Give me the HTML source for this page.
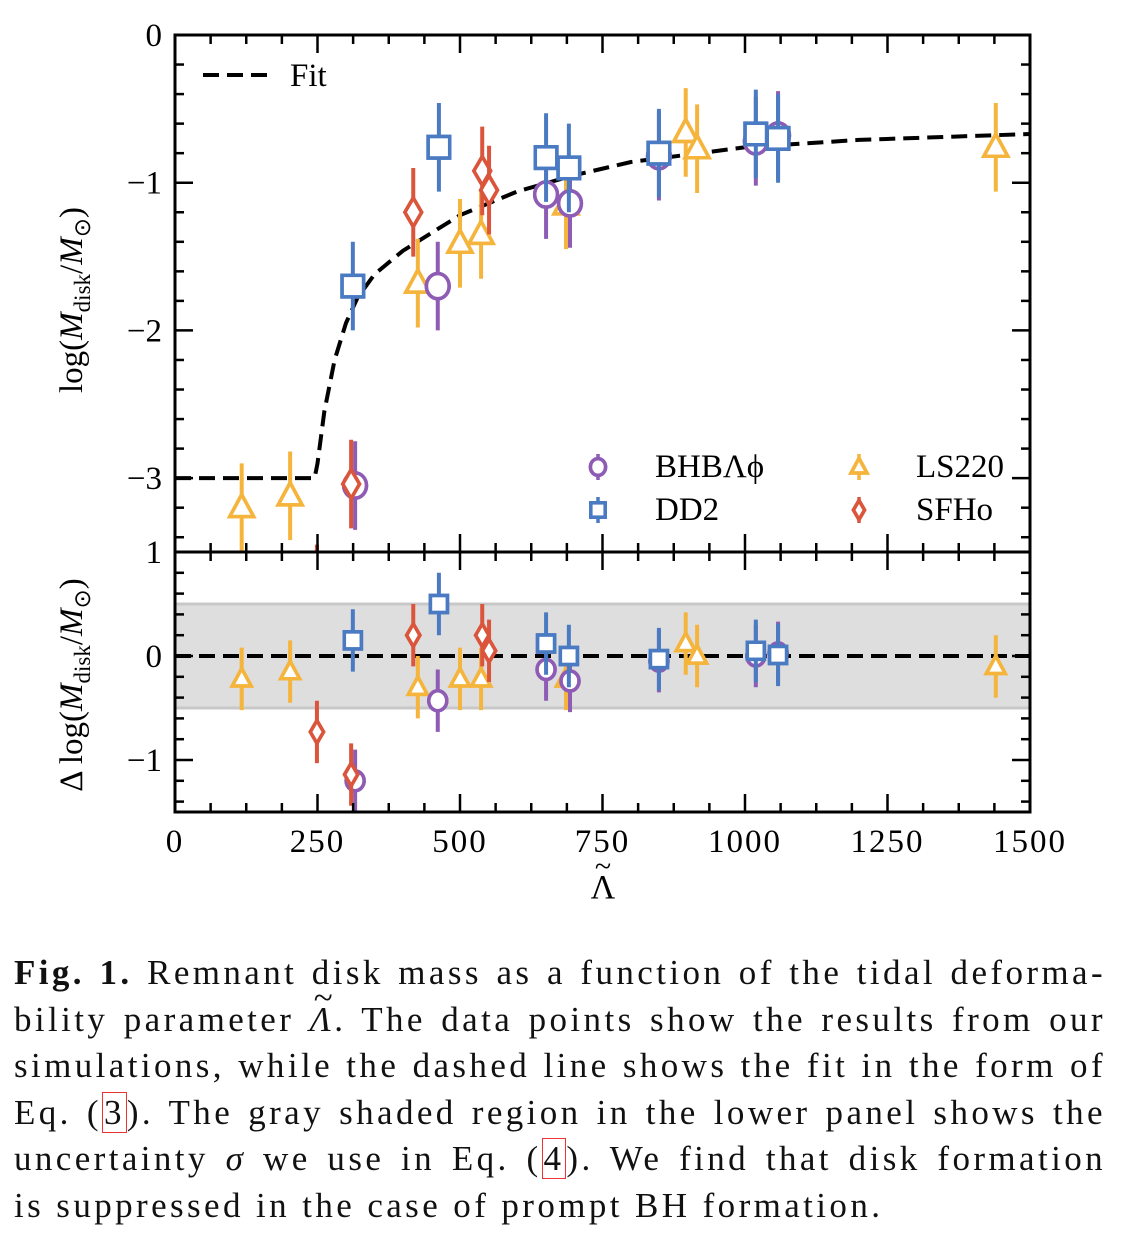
<!DOCTYPE html>
<html><head><meta charset="utf-8">
<style>
html,body{margin:0;padding:0;background:#fff;}
body{width:1142px;height:1256px;position:relative;overflow:hidden;font-family:"Liberation Serif",serif;}
#cap{position:absolute;left:14px;top:950px;width:1092px;font-size:35px;letter-spacing:3.4px;line-height:46.6px;color:#111;}
#cap div{text-align:justify;text-align-last:justify;white-space:nowrap;height:46.6px;}
#cap div.last{text-align-last:left;}
.ref{border:1px solid #e33;padding:0 1px;}
.tl{position:relative;display:inline-block;}
.tl::after{content:"~";position:absolute;left:4px;top:-22px;font-style:normal;}
</style></head>
<body>
<svg id="chart" width="1142" height="940" style="position:absolute;left:0;top:0" xmlns="http://www.w3.org/2000/svg" font-family="Liberation Serif, serif"></svg>
<div id="cap">
<div><b>Fig. 1.</b> Remnant disk mass as a function of the tidal deforma-</div>
<div>bility parameter <i class="tl">Λ</i>. The data points show the results from our</div>
<div>simulations, while the dashed line shows the fit in the form of</div>
<div>Eq. (<span class="ref">3</span>). The gray shaded region in the lower panel shows the</div>
<div>uncertainty <i>σ</i> we use in Eq. (<span class="ref">4</span>). We find that disk formation</div>
<div class="last">is suppressed in the case of prompt BH formation.</div>
</div>
<script>
const lsLambda=[117,202,426,500,537,686,896,916,1440];
const lsLog=[-3.2,-3.12,-1.68,-1.41,-1.35,-1.15,-0.66,-0.77,-0.76];
const lsRes=[-0.22,-0.15,-0.3,-0.22,-0.22,-0.22,0.12,0.0,-0.1];
const bhLambda=[316,461,651,693,849,1019,1058];
const bhLog=[-3.05,-1.7,-1.08,-1.14,-0.82,-0.72,-0.68];
const bhRes=[-1.2,-0.43,-0.13,-0.24,-0.05,0.0,0.03];
const ddLambda=[312,463,651,691,849,1019,1058];
const ddLog=[-1.7,-0.76,-0.83,-0.9,-0.8,-0.67,-0.7];
const ddRes=[0.15,0.5,0.12,0.0,-0.03,0.05,0.01];
const sfLambda=[249,309,418,539,551];
const sfLog=[-3.75,-3.04,-1.2,-0.92,-1.05];
const sfRes=[-0.73,-1.14,0.2,0.2,0.05];
const errTop=0.3, errBot=0.3;
const fitLambda=[0,245,250,262,280,300,320,350,400,450,500,600,700,800,1000,1200,1500];
const fitLog=[-3,-3,-2.9,-2.55,-2.2,-1.95,-1.78,-1.62,-1.46,-1.34,-1.22,-1.06,-0.95,-0.86,-0.76,-0.71,-0.67];
const xTicks=[0,250,500,750,1000,1250,1500];
const yTopTicks=[0,-1,-2,-3];
const yBotTicks=[1,0,-1];

const NS='http://www.w3.org/2000/svg';
const svg=document.getElementById('chart');
const L=175,R=1030,T1=35,B1=552,T2=552,B2=812;
const X=v=>L+v/1500*(R-L);
const Y1=v=>T1+(-v)/3.5*(B1-T1);
const Y2=v=>T2+(1-v)/2.5*(B2-T2);
function mk(tag,attrs,parent){const e=document.createElementNS(NS,tag);for(const k in attrs)e.setAttribute(k,attrs[k]);(parent||svg).appendChild(e);return e;}
const defs=mk('defs',{});
const c1=mk('clipPath',{id:'c1'},defs);mk('rect',{x:L,y:T1,width:R-L,height:B1-T1},c1);
const c2=mk('clipPath',{id:'c2'},defs);mk('rect',{x:L,y:T2,width:R-L,height:B2-T2},c2);
const g1=mk('g',{'clip-path':'url(#c1)'});


const g2=mk('g',{'clip-path':'url(#c2)'});



const band=mk('rect',{x:L,y:Y2(0.5),width:R-L,height:Y2(-0.5)-Y2(0.5),fill:'#dedede',stroke:'#c8c8c8','stroke-width':3},g2);



let d='';fitLambda.forEach((l,i)=>{d+=(i?'L':'M')+X(l).toFixed(1)+','+Y1(fitLog[i]).toFixed(1);});
const fit=mk('path',{d:d,fill:'none',stroke:'#000','stroke-width':4,'stroke-dasharray':'16,8'},g1);


const zl=mk('line',{x1:L,x2:R,y1:Y2(0),y2:Y2(0),stroke:'#000','stroke-width':4,'stroke-dasharray':'16,8'},g2);



function marker(type,cx,cy,color,s,parent){
  const a={fill:'none',stroke:color,'stroke-width':3.5};let e;
  if(type==='o'){e=mk('ellipse',Object.assign({cx:cx,cy:cy,rx:s*0.95,ry:s*1.05},a),parent);}
  else if(type==='s'){e=mk('rect',Object.assign({x:cx-s*0.9,y:cy-s*0.9,width:s*1.8,height:s*1.8},a),parent);}
  else if(type==='^'){e=mk('polygon',Object.assign({points:`${cx},${cy-s*1.1} ${cx+s},${cy+s*0.75} ${cx-s},${cy+s*0.75}`},a),parent);}
  else {e=mk('polygon',Object.assign({points:`${cx},${cy-s*1.2} ${cx+s*0.7},${cy} ${cx},${cy+s*1.2} ${cx-s*0.7},${cy}`},a),parent);}
  return e;
}
function series(name,type,color,lam,logv,res){
  [[g1,Y1,logv,errTop,'top'],[g2,Y2,res,errBot,'bottom']].forEach(([g,Yf,vals,err,pn])=>{
    lam.forEach((l,i)=>{
      const cx=X(l),cy=Yf(vals[i]);
      const grp=mk('g',{},g);
      
      
      const sz=pn==='top'?12:9.5;
      mk('line',{x1:cx,x2:cx,y1:Yf(vals[i]+err),y2:Yf(vals[i]-err),stroke:color,'stroke-width':4},grp);
      const m=marker(type,cx,cy,color,sz,grp);m.setAttribute('fill','#fff');
      marker(type,cx,cy,color,sz,grp);
    });
  });
}
const C={ls:'#f5b43c',bh:'#8e5cb5',dd:'#4a7bc2',sf:'#da553c'};
series('ls220','^',C.ls,lsLambda,lsLog,lsRes);
series('bhblphi','o',C.bh,bhLambda,bhLog,bhRes);
series('dd2','s',C.dd,ddLambda,ddLog,ddRes);
series('sfho','d',C.sf,sfLambda,sfLog,sfRes);

function frame(top,bot,name){const r=mk('rect',{x:L,y:top,width:R-L,height:bot-top,fill:'none',stroke:'#000','stroke-width':3});}
frame(T1,B1,'top-panel-frame');frame(T2,B2,'bottom-panel-frame');
function tk(x1,y1,x2,y2){mk('line',{x1,y1,x2,y2,stroke:'#000','stroke-width':2.5});}
for(let v=0;v<=1500;v+=62.5){const x=X(v),maj=v%250===0,len=maj?18:9;
  [[T1,1],[B1,-1],[T2,1],[B2,-1]].forEach(([y,s])=>tk(x,y,x,y+s*len));}
for(let k=0;k<=17;k++){const v=-k*0.2,y=Y1(v),maj=Math.abs(v-Math.round(v))<1e-6,len=maj?18:9;tk(L,y,L+len,y);tk(R,y,R-len,y);}
for(let k=0;k<=12;k++){const v=1-k*0.2,y=Y2(v),maj=Math.abs(v-Math.round(v))<1e-6,len=maj?18:9;if(y<=T2+1||y>=B2-1)continue;tk(L,y,L+len,y);tk(R,y,R-len,y);}
function txt(s,x,y,attrs,name){const t=mk('text',Object.assign({x,y,'font-size':33,fill:'#000'},attrs||{}));t.textContent=s;return t;}
xTicks.forEach(v=>txt(String(v),X(v),852,{'text-anchor':'middle','letter-spacing':2},'x-tick-label'));
yTopTicks.forEach(v=>txt(v<0?'−'+(-v):String(v),162,Y1(v)+11,{'text-anchor':'end'},'y-top-tick-label'));
yBotTicks.forEach(v=>txt(v<0?'−'+(-v):String(v),162,Y2(v)+11,{'text-anchor':'end'},'y-bottom-tick-label'));
const yt=txt('',82,300,{'text-anchor':'middle',transform:'rotate(-90 82 300)'},'y-axis-title-top');
yt.innerHTML='log(<tspan font-style="italic">M</tspan><tspan font-size="23" dy="8">disk</tspan><tspan dy="-8">/</tspan><tspan font-style="italic">M</tspan><tspan font-size="23" dy="8">⊙</tspan><tspan dy="-8">)</tspan>';
const yb=txt('',82,685,{'text-anchor':'middle',transform:'rotate(-90 82 685)'},'y-axis-title-bottom');
yb.innerHTML='Δ log(<tspan font-style="italic">M</tspan><tspan font-size="23" dy="8">disk</tspan><tspan dy="-8">/</tspan><tspan font-style="italic">M</tspan><tspan font-size="23" dy="8">⊙</tspan><tspan dy="-8">)</tspan>';
txt('Λ',603,898,{'text-anchor':'middle','font-size':34},'x-axis-title');
txt('~',603,876,{'text-anchor':'middle','font-size':30},'x-axis-title-tilde');
const fl=mk('line',{x1:203,x2:268,y1:75,y2:75,stroke:'#000','stroke-width':4,'stroke-dasharray':'16,8'});

txt('Fit',290,86,{},'legend-fit-label');
[['o',C.bh,598,467,'BHBΛϕ','legend-bhblphi'],['s',C.dd,598,510,'DD2','legend-dd2'],['^',C.ls,859,467,'LS220','legend-ls220'],['d',C.sf,859,510,'SFHo','legend-sfho']].forEach(([t,c,x,y,lab,nm])=>{
  const g=mk('g',{});
  mk('line',{x1:x,x2:x,y1:y-13,y2:y+13,stroke:c,'stroke-width':3.5},g);
  const m=marker(t,x,y,c,8,g);m.setAttribute('fill','#fff');marker(t,x,y,c,8,g);
  const tt=txt(lab,x+57,y+10,{},nm+'-label');g.appendChild(tt);
});
</script>
</body></html>
